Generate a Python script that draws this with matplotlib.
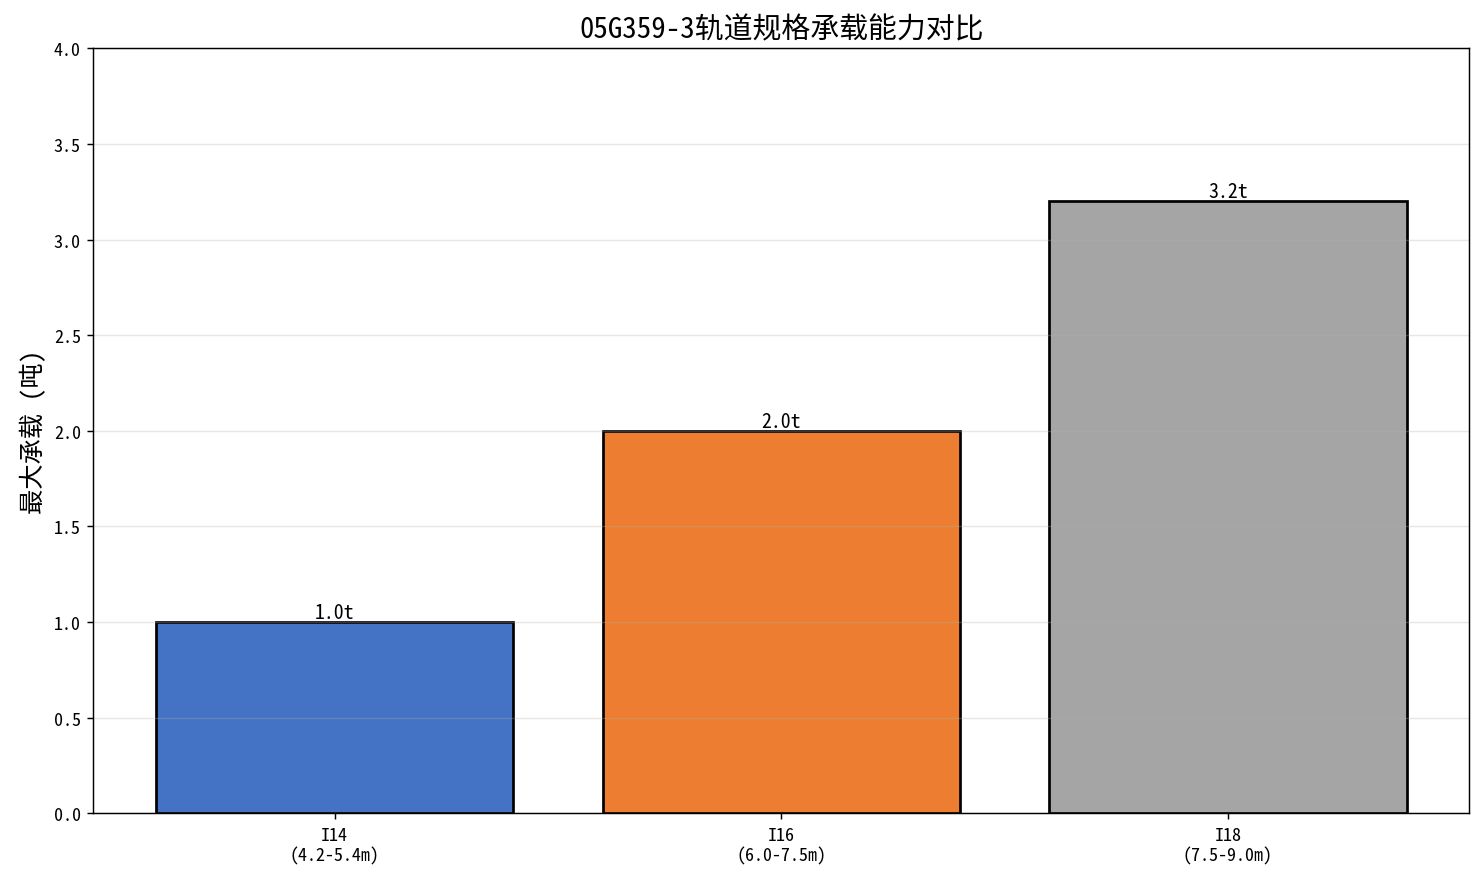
import matplotlib
matplotlib.use("Agg")
import matplotlib.pyplot as plt
import numpy as np

plt.rcParams['font.family'] = ['Noto Sans Mono CJK SC', 'Noto Sans CJK SC', 'DejaVu Sans']
plt.rcParams['axes.unicode_minus'] = False

# data
rails = ["I14\n(4.2-5.4m)", "I16\n(6.0-7.5m)", "I18\n(7.5-9.0m)"]
capacity = [1.0, 2.0, 3.2]
colors = ["#4472C4", "#ED7D31", "#A5A5A5"]

fig, ax = plt.subplots(figsize=(11.415, 6.792), dpi=130)

x = np.arange(len(rails))
bars = ax.bar(x, capacity, width=0.8, color=colors, edgecolor='black', linewidth=1.5)

for b, v in zip(bars, capacity):
    ax.text(b.get_x() + b.get_width() / 2, v, f"{v:.1f}t",
            ha='center', va='bottom', fontsize=11)

ax.set_xticks(x)
ax.set_xticklabels(rails)
ax.set_ylim(0, 4.0)
ax.set_ylabel("最大承载 (吨)", fontsize=14)
ax.set_title("05G359-3轨道规格承载能力对比", fontsize=16)
ax.grid(axis='y', alpha=0.3)

fig.subplots_adjust(left=0.063, right=0.99, top=0.944, bottom=0.078)
fig.savefig("out.png", dpi=130)
